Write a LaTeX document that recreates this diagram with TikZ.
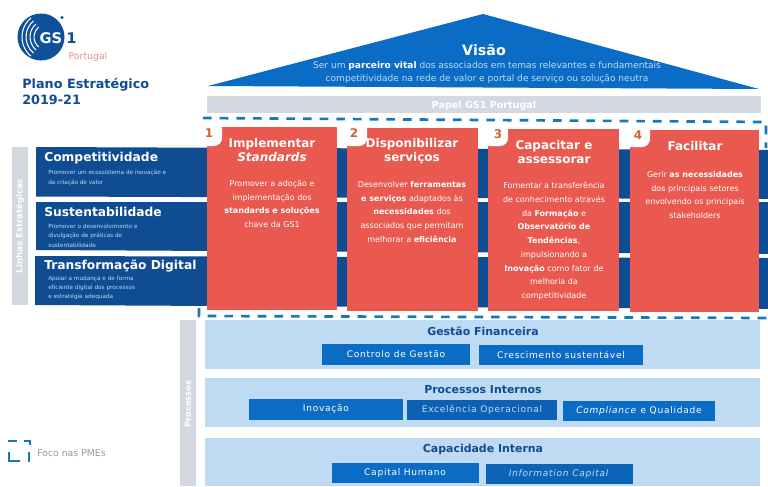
\documentclass[tikz,border=0pt]{standalone}
\usepackage{fontspec}
\setmainfont{DejaVu Sans}
\newfontfamily\wideface[LetterSpace=8]{DejaVu Sans}
\usepackage{tikz}
\definecolor{roofblue}{HTML}{0B6CC6}
\definecolor{navyblue}{HTML}{0F4C92}
\definecolor{paleblue}{HTML}{BFDBF3}
\definecolor{pillargrey}{HTML}{D4D8E1}
\definecolor{cardred}{HTML}{E9594F}
\definecolor{framedash}{HTML}{1478C0}
\tikzset{
    cardbox/.style={fill=cardred,draw=none},
    cardnotch/.style={fill=white,draw=none,rounded corners=6pt},
    cardnum/.style={font=\bfseries\fontsize{9}{9}\selectfont,text=brown!80!red},
    cardtitle/.style={font=\bfseries\fontsize{9}{10.5}\selectfont,text=white,align=center,anchor=north,inner sep=0pt},
    cardtext/.style={font=\fontsize{6}{10.3}\selectfont,text=white,align=center,anchor=north,inner sep=0pt},
    linetitle/.style={font=\bfseries\fontsize{9.2}{9}\selectfont,text=white,anchor=west,inner sep=0pt},
    linetext/.style={font=\fontsize{4.3}{7}\selectfont,text=paleblue,align=left,anchor=north west,inner sep=0pt},
    panel/.style={fill=paleblue,draw=none},
    paneltitle/.style={font=\bfseries\fontsize{8.2}{8}\selectfont,text=navyblue},
    btn/.style={fill=roofblue,draw=none,text=white,font=\wideface\fontsize{6.8}{7}\selectfont,inner sep=0pt},
    strip/.style={fill=pillargrey,draw=none},
    framedashed/.style={draw=framedash,line width=2pt,dash pattern=on 6.5pt off 6pt},
}
\begin{document}
\begin{tikzpicture}[x=.75pt,y=-.75pt]
    \useasboundingbox (0,0) rectangle (768,486);

    % logo
    \fill[navyblue!85!roofblue] (41,37) circle (23.5);
    \foreach \r in {13,17,21,25}
        \draw[white,line width=.8pt] (47,37) ++(130:\r) arc (130:230:\r);
    \fill[navyblue] (62,17.5) circle (1.6);
    \node[font=\bfseries\fontsize{11}{11}\selectfont,text=white] (logogs) at (51,38) {GS};
    \node[font=\bfseries\fontsize{11}{11}\selectfont,text=navyblue,anchor=west,inner sep=0pt] (logoone) at (66,38) {1};
    \node[font=\fontsize{7}{7}\selectfont,text=red!25!pink!80!gray] (logopt) at (88,57) {Portugal};
    \node[font=\bfseries\fontsize{9.6}{9}\selectfont,text=navyblue,anchor=west,inner sep=0pt] (plano) at (22,85) {Plano Estratégico};
    \node[font=\bfseries\fontsize{9.6}{9}\selectfont,text=navyblue,anchor=west,inner sep=0pt] (anos) at (22,100) {2019-21};

    % roof and pillar
    \fill[roofblue] (208,86) -- (483,14) -- (759,89) -- cycle;
    \node[font=\bfseries\fontsize{10.7}{11}\selectfont,text=white] (visao) at (484,50) {Visão};
    \node[font=\fontsize{6.8}{9.6}\selectfont,text=paleblue,align=center] (visaotext) at (487,72.5)
        {Ser um {\bfseries\color{white}parceiro vital} dos associados em temas relevantes e fundamentais\\
         competitividade na rede de valor e portal de serviço ou solução neutra};
    \fill[pillargrey] (207,96) rectangle (761,113);
    \node[font=\bfseries\fontsize{7.2}{7}\selectfont,text=white] (papel) at (484,106) {Papel GS1 Portugal};

    % strategic lines
    \fill[strip] (12,147) rectangle (28,305);
    \node[rotate=90,font=\bfseries\fontsize{6.4}{6}\selectfont,text=white] (linhas) at (20,226) {Linhas Estratégicas};
    \fill[navyblue] (36,147) -- (768,150) -- (768,199) -- (36,196.5) -- cycle;
    \fill[navyblue] (36,202) -- (768,202) -- (768,254) -- (36,250) -- cycle;
    \fill[navyblue] (35,256) -- (768,258) -- (768,309) -- (35,305) -- cycle;
    \node[linetitle] (compet) at (44,158) {Competitividade};
    \node[linetext] (compettext) at (48,170) {Promover um ecossistema de inovação e\\da criação de valor};
    \node[linetitle] (sust) at (44,212) {Sustentabilidade};
    \node[linetext] (susttext) at (48,224) {Promover o desenvolvimento e\\divulgação de práticas de\\sustentabilidade};
    \node[linetitle] (transf) at (44,266) {Transformação Digital};
    \node[linetext] (transftext) at (48,275.5) {Apoiar a mudança e de forma\\eficiente digital dos processos\\e estratégia adequada};

    % cards
    \fill[cardbox] (207,127) rectangle (337,310);
    \fill[cardnotch] (195,121) rectangle (222,146);
    \node[cardnum] (numone) at (209,133) {1};
    \node[cardtitle] (cardone) at (272,138) {Implementar\\\textit{Standards}};
    \node[cardtext] (cardonetext) at (272,180)
        {Promover a adoção e\\implementação dos\\\textbf{standards e soluções}\\chave da GS1};

    \fill[cardbox] (347,128) rectangle (478,311);
    \fill[cardnotch] (338,121) rectangle (367,146);
    \node[cardnum] (numtwo) at (354,133) {2};
    \node[cardtitle] (cardtwo) at (412,138) {Disponibilizar\\serviços};
    \node[cardtext] (cardtwotext) at (412,181)
        {Desenvolver \textbf{ferramentas}\\\textbf{e serviços} adaptados às\\\textbf{necessidades} dos\\associados que permitam\\melhorar a \textbf{eficiência}};

    \fill[cardbox] (488,129) rectangle (619,311);
    \fill[cardnotch] (480,121) rectangle (508,146);
    \node[cardnum] (numthree) at (498,134) {3};
    \node[cardtitle] (cardthree) at (554,140) {Capacitar e\\assessorar};
    \node[cardtext] (cardthreetext) at (554,182)
        {Fomentar a transferência\\de conhecimento através\\da \textbf{Formação} e\\\textbf{Observatório de}\\\textbf{Tendências},\\impulsionando a\\\textbf{Inovação} como fator de\\melhoria da\\competitividade};

    \fill[cardbox] (630,130) rectangle (759,312);
    \fill[cardnotch] (621,122) rectangle (650,147);
    \node[cardnum] (numfour) at (638,135) {4};
    \node[cardtitle] (cardfour) at (695,141) {Facilitar};
    \node[cardtext] (cardfourtext) at (695,171)
        {Gerir \textbf{as necessidades}\\dos principais setores\\envolvendo os principais\\stakeholders};

    % dashed frame
    \draw[framedashed] (203,118) -- (766,122) -- (766,148);
    \draw[framedashed] (199,308) -- (199,316) -- (768,318);

    % lower panels
    \fill[strip] (180,320) rectangle (196,486);
    \node[rotate=90,font=\bfseries\fontsize{6.2}{6}\selectfont,text=white] (proc) at (188,404) {Processos};
    \fill[panel] (205,320) rectangle (760,369);
    \fill[panel] (205,378) rectangle (760,427);
    \fill[panel] (205,438) rectangle (760,486);

    \node[paneltitle] (gestao) at (483,331) {Gestão Financeira};
    \node[btn,minimum width=148*.75pt,minimum height=21*.75pt] (controlo) at (396,354) {Controlo de Gestão};
    \node[btn,minimum width=164*.75pt,minimum height=20*.75pt] (cresc) at (561,355) {Crescimento sustentável};

    \node[paneltitle] (internos) at (483,390) {Processos Internos};
    \node[btn,minimum width=154*.75pt,minimum height=21*.75pt] (inov) at (326,409) {Inovação};
    \node[btn,minimum width=150*.75pt,minimum height=20*.75pt,fill=navyblue!35!roofblue,text=paleblue] (excel) at (482,410) {Excelência Operacional};
    \node[btn,minimum width=152*.75pt,minimum height=20*.75pt] (compl) at (639,411) {\textit{Compliance} e Qualidade};

    \node[paneltitle] (capac) at (483,449) {Capacidade Interna};
    \node[btn,minimum width=147*.75pt,minimum height=20*.75pt] (humano) at (405,473) {Capital Humano};
    \node[btn,minimum width=147*.75pt,minimum height=20*.75pt,fill=navyblue!25!roofblue,text=paleblue] (info) at (559,474) {\textit{Information Capital}};

    % legend
    \draw[framedash,line width=1.4pt] (8,441) -- (17,441);
    \draw[framedash,line width=1.4pt] (24,441) -- (30,441) -- (30,445);
    \draw[framedash,line width=1.4pt] (9,452) -- (9,461) -- (20,461);
    \draw[framedash,line width=1.4pt] (29,452) -- (29,462);
    \node[font=\fontsize{7}{7}\selectfont,text=gray!80,anchor=west,inner sep=0pt] (foco) at (37,453) {Foco nas PMEs};
\end{tikzpicture}
\end{document}
